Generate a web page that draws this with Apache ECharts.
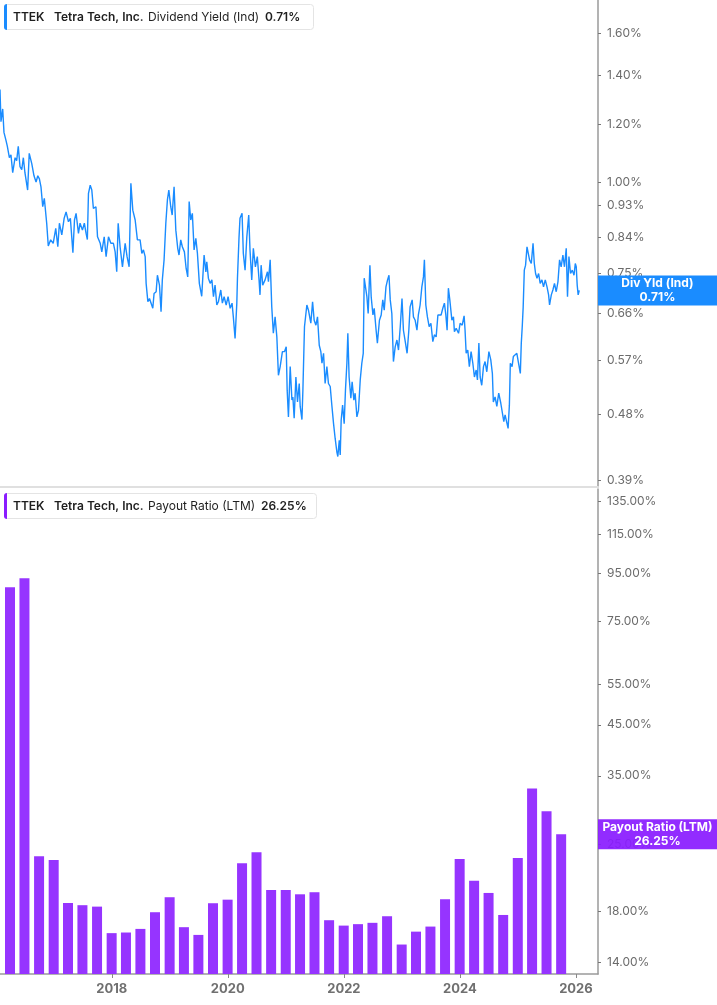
<!DOCTYPE html>
<html>
<head>
<meta charset="utf-8">
<script src="https://cdn.jsdelivr.net/npm/echarts@6/dist/echarts.min.js"></script>
<style>
  html, body { margin: 0; padding: 0; background: #fff; }
  #chart { width: 717px; height: 1005px; }
</style>
</head>
<body>
<div id="chart"></div>
<script>
// 股息率 (Ind) 日线，读自原图
const yieldDates = [
  '2016-01-28','2016-02-03','2016-02-14','2016-02-22','2016-03-06','2016-03-14','2016-03-27','2016-04-06','2016-04-17','2016-05-02',
  '2016-05-12','2016-05-22','2016-06-02','2016-06-13','2016-06-23','2016-07-03','2016-07-20','2016-07-30','2016-08-15','2016-08-29',
  '2016-09-11','2016-09-22','2016-10-02','2016-10-12','2016-10-23','2016-11-02','2016-11-17','2016-11-27','2016-12-12','2016-12-28',
  '2017-01-13','2017-01-26','2017-02-05','2017-02-20','2017-03-07','2017-03-19','2017-04-03','2017-04-15','2017-05-01','2017-05-11',
  '2017-05-21','2017-06-05','2017-06-15','2017-06-30','2017-07-12','2017-07-23','2017-07-31','2017-08-07','2017-08-18','2017-08-28',
  '2017-09-07','2017-09-23','2017-10-03','2017-10-20','2017-10-30','2017-11-14','2017-11-26','2017-12-11','2017-12-26','2018-01-11',
  '2018-01-22','2018-02-01','2018-02-10','2018-02-22','2018-03-09','2018-03-26','2018-04-07','2018-04-20','2018-05-01','2018-05-13',
  '2018-05-28','2018-06-11','2018-06-28','2018-07-09','2018-07-19','2018-07-30','2018-08-05','2018-08-16','2018-08-26','2018-09-16',
  '2018-09-24','2018-10-07','2018-10-15','2018-10-28','2018-11-07','2018-11-15','2018-11-26','2018-12-07','2018-12-17','2018-12-26',
  '2019-01-07','2019-01-16','2019-01-28','2019-02-08','2019-02-20','2019-02-28','2019-03-11','2019-03-21','2019-04-03','2019-04-14',
  '2019-04-24','2019-05-03','2019-05-13','2019-05-23','2019-06-03','2019-06-14','2019-06-24','2019-07-06','2019-07-21','2019-08-05',
  '2019-08-16','2019-08-22','2019-09-01','2019-09-12','2019-09-23','2019-10-03','2019-10-13','2019-10-24','2019-11-03','2019-11-18',
  '2019-11-28','2019-12-09','2019-12-22','2020-01-03','2020-01-16','2020-01-28','2020-02-05','2020-02-16','2020-02-27','2020-03-02',
  '2020-03-12','2020-03-18','2020-03-31','2020-04-08','2020-04-19','2020-04-30','2020-05-12','2020-05-20','2020-05-31','2020-06-10',
  '2020-06-23','2020-07-05','2020-07-16','2020-07-22','2020-07-29','2020-08-08','2020-08-23','2020-09-07','2020-09-13','2020-09-24',
  '2020-10-04','2020-10-14','2020-10-25','2020-11-05','2020-11-15','2020-11-26','2020-12-10','2020-12-23','2021-01-03','2021-01-09',
  '2021-01-17','2021-01-28','2021-02-08','2021-02-14','2021-02-22','2021-03-05','2021-03-15','2021-03-26','2021-04-01','2021-04-12',
  '2021-04-18','2021-04-28','2021-05-13','2021-05-23','2021-06-07','2021-06-18','2021-06-28','2021-07-09','2021-07-19','2021-07-30',
  '2021-08-09','2021-08-16','2021-08-26','2021-09-05','2021-09-16','2021-09-26','2021-10-07','2021-10-18','2021-10-28','2021-11-07',
  '2021-11-18','2021-11-24','2021-12-03','2021-12-09','2021-12-15','2021-12-24','2022-01-03','2022-01-11','2022-01-20','2022-01-26',
  '2022-02-03','2022-02-14','2022-02-22','2022-03-05','2022-03-13','2022-03-24','2022-04-03','2022-04-14','2022-04-24','2022-05-03',
  '2022-05-09','2022-05-19','2022-05-26','2022-06-03','2022-06-14','2022-06-22','2022-07-03','2022-07-11','2022-07-23','2022-07-31',
  '2022-08-13','2022-08-24','2022-09-03','2022-09-12','2022-09-23','2022-10-03','2022-10-12','2022-10-20','2022-10-30','2022-11-09',
  '2022-11-20','2022-12-01','2022-12-11','2022-12-22','2023-01-02','2023-01-11','2023-01-24','2023-02-03','2023-02-14','2023-02-22',
  '2023-03-07','2023-03-15','2023-03-26','2023-04-06','2023-04-15','2023-04-26','2023-05-07','2023-05-17','2023-05-23','2023-06-01',
  '2023-06-11','2023-06-22','2023-07-03','2023-07-15','2023-07-25','2023-08-05','2023-08-16','2023-08-26','2023-09-05','2023-09-16',
  '2023-09-26','2023-10-05','2023-10-13','2023-10-21','2023-10-30','2023-11-12','2023-11-22','2023-11-28','2023-12-09','2023-12-24',
  '2024-01-03','2024-01-16','2024-01-28','2024-02-03','2024-02-10','2024-02-20','2024-03-01','2024-03-12','2024-03-23','2024-04-02',
  '2024-04-13','2024-04-21','2024-04-30','2024-05-08','2024-05-18','2024-05-29','2024-06-08','2024-06-19','2024-07-02','2024-07-14',
  '2024-07-24','2024-07-30','2024-08-10','2024-08-21','2024-09-02','2024-09-15','2024-09-25','2024-10-04','2024-10-12','2024-10-23',
  '2024-10-31','2024-11-08','2024-11-14','2024-11-25','2024-12-03','2024-12-14','2024-12-25','2025-01-05','2025-01-16','2025-01-22',
  '2025-01-28','2025-02-03','2025-02-10','2025-02-18','2025-02-27','2025-03-07','2025-03-15','2025-03-26','2025-04-06','2025-04-14',
  '2025-04-22','2025-05-01','2025-05-11','2025-05-21','2025-06-01','2025-06-11','2025-06-22','2025-07-03','2025-07-13','2025-07-19',
  '2025-07-30','2025-08-09','2025-08-19','2025-08-30','2025-09-10','2025-09-20','2025-09-30','2025-10-11','2025-10-21','2025-11-01',
  '2025-11-09','2025-11-18','2025-11-28','2025-12-09','2025-12-20','2025-12-28','2026-01-03','2026-01-09','2026-01-15','2026-01-22'
];
const yieldValues = [
  1.34,1.21,1.26,1.17,1.14,1.12,1.08,1.09,1.03,1.08,
  1.07,1.12,1.05,1.04,1.08,1.03,0.975,1.095,1.06,1.02,
  1.00,1.02,1.01,0.985,0.925,0.95,0.878,0.817,0.833,0.824,
  0.864,0.815,0.878,0.846,0.892,0.910,0.882,0.892,0.800,0.887,
  0.906,0.850,0.878,0.859,0.878,0.850,0.834,0.965,0.99,0.975,
  0.920,0.925,0.841,0.824,0.802,0.841,0.790,0.841,0.824,0.824,
  0.802,0.753,0.878,0.815,0.765,0.824,0.790,0.765,0.996,0.915,
  0.887,0.833,0.833,0.798,0.807,0.790,0.726,0.685,0.692,0.671,
  0.703,0.707,0.745,0.722,0.664,0.734,0.782,0.878,0.945,0.975,
  0.925,0.901,0.985,0.859,0.811,0.794,0.833,0.815,0.802,0.761,
  0.741,0.940,0.887,0.906,0.807,0.837,0.798,0.726,0.697,0.794,
  0.753,0.777,0.738,0.726,0.734,0.696,0.722,0.678,0.685,0.711,
  0.682,0.696,0.678,0.696,0.671,0.682,0.653,0.610,0.682,0.738,
  0.841,0.892,0.906,0.798,0.757,0.841,0.901,0.807,0.734,0.811,
  0.765,0.790,0.734,0.700,0.769,0.722,0.734,0.753,0.730,0.782,
  0.674,0.620,0.653,0.613,0.543,0.558,0.585,0.585,0.594,0.518,
  0.476,0.558,0.502,0.507,0.474,0.540,0.499,0.529,0.492,0.472,
  0.518,0.633,0.678,0.667,0.640,0.685,0.646,0.636,0.653,0.597,
  0.585,0.564,0.582,0.529,0.558,0.529,0.524,0.492,0.466,0.445,
  0.426,0.420,0.442,0.422,0.471,0.494,0.466,0.518,0.564,0.620,
  0.540,0.505,0.532,0.502,0.513,0.476,0.486,0.535,0.564,0.582,
  0.738,0.734,0.696,0.660,0.769,0.696,0.657,0.671,0.626,0.601,
  0.646,0.657,0.689,0.667,0.718,0.734,0.745,0.689,0.660,0.567,
  0.594,0.607,0.588,0.633,0.692,0.626,0.601,0.582,0.626,0.674,
  0.689,0.653,0.646,0.626,0.657,0.678,0.718,0.741,0.782,0.678,
  0.653,0.633,0.640,0.604,0.617,0.613,0.657,0.653,0.657,0.671,
  0.682,0.657,0.626,0.715,0.689,0.646,0.653,0.623,0.630,0.620,
  0.640,0.636,0.655,0.626,0.582,0.588,0.558,0.585,0.564,0.540,
  0.552,0.535,0.601,0.540,0.526,0.558,0.567,0.549,0.585,0.570,
  0.546,0.499,0.507,0.492,0.513,0.497,0.494,0.469,0.479,0.481,
  0.459,0.494,0.564,0.558,0.576,0.579,0.582,0.579,0.546,0.601,
  0.633,0.674,0.757,0.769,0.815,0.798,0.782,0.773,0.824,0.773,
  0.749,0.738,0.749,0.726,0.734,0.718,0.734,0.718,0.700,0.678,
  0.700,0.711,0.726,0.707,0.730,0.782,0.765,0.794,0.765,0.811,
  0.696,0.790,0.749,0.757,0.745,0.773,0.765,0.722,0.700,0.71
];

// 派息率 (LTM) 季度值
const payoutDates = [
  '2016-03-31','2016-06-30','2016-09-30','2016-12-31','2017-03-31','2017-06-30','2017-09-30','2017-12-31',
  '2018-03-31','2018-06-30','2018-09-30','2018-12-31','2019-03-31','2019-06-30','2019-09-30','2019-12-31',
  '2020-03-31','2020-06-30','2020-09-30','2020-12-31','2021-03-31','2021-06-30','2021-09-30','2021-12-31',
  '2022-03-31','2022-06-30','2022-09-30','2022-12-31','2023-03-31','2023-06-30','2023-09-30','2023-12-31',
  '2024-03-31','2024-06-30','2024-09-30','2024-12-31','2025-03-31','2025-06-30','2025-09-30'
];
const payoutValues = [
  88.5, 92.5, 23.55, 23.13, 18.72, 18.52, 18.39, 16.14,
  16.19, 16.48, 17.89, 19.26, 16.62, 16.0, 18.70, 19.03,
  22.76, 24.02, 19.96, 19.96, 19.54, 19.74, 17.20, 16.75,
  16.87, 16.98, 17.54, 15.26, 16.26, 16.67, 19.07, 23.24,
  20.89, 19.67, 17.65, 23.35, 32.88, 29.42, 26.25
];

// 坐标轴刻度
const yieldTicks = [0.39, 0.48, 0.57, 0.66, 0.75, 0.84, 0.93, 1.00, 1.20, 1.40, 1.60];
const payoutTicks = [14, 18, 25, 35, 45, 55, 75, 95, 115, 135];
const YEAR_STEP = 2; // 年份标签间隔: 2018, 2020, ... 2026

const xMin = '2016-01-28';
const xMax = '2026-05-20';
const FONT = 'Inter';
const GRID_W = 598;
const BAR_W = 10;

const lastYield = yieldValues[yieldValues.length - 1];
const lastPayout = payoutValues[payoutValues.length - 1];

// 柱状图会把时间轴两端各撑开半个柱宽，这里预先收回，保证上下两图的时间刻度对齐
const t0 = echarts.time.parse(xMin).getTime();
const t1 = echarts.time.parse(xMax).getTime();
const barPad = (t1 - t0) * (BAR_W / 2) / GRID_W;

function headerTitle(top, accent, metric, value, metricWidth, valueWidth) {
    const base = { fontFamily: FONT, fontSize: 12, color: '#1f1f1f', height: 26, lineHeight: 26 };
    return {
        left: 4,
        top: top,
        padding: 0,
        backgroundColor: '#fff',
        borderColor: '#e4e4e4',
        borderWidth: 1,
        borderRadius: 3,
        text: '{bar| }{sp| }{tk|TTEK}{co|Tetra Tech, Inc.}{me|' + metric + '}{va|' + value + '}',
        textStyle: {
            rich: {
                bar: { width: 3, height: 26, backgroundColor: accent, borderRadius: [3, 0, 0, 3] },
                sp: { width: 6, height: 26 },
                tk: Object.assign({}, base, { width: 41, fontWeight: 600 }),
                co: Object.assign({}, base, { width: 94, fontWeight: 600 }),
                me: Object.assign({}, base, { width: metricWidth, fontWeight: 'normal' }),
                va: Object.assign({}, base, { width: valueWidth, fontWeight: 600 })
            }
        }
    };
}

function yAxisCfg(gridIndex, min, max, ticks) {
    return {
        type: 'log',
        gridIndex: gridIndex,
        position: 'right',
        min: min,
        max: max,
        axisLine: { show: true, lineStyle: { color: '#9a9a9a', width: 1.5 } },
        axisTick: { show: true, length: 3, customValues: ticks, lineStyle: { color: '#777' } },
        axisLabel: {
            customValues: ticks,
            margin: 9,
            color: '#6b6b6b',
            fontFamily: FONT,
            fontSize: 12,
            formatter: function (v) { return Number(v).toFixed(2) + '%'; }
        },
        splitLine: { show: false }
    };
}

const chartDom = document.getElementById('chart');
const myChart = echarts.init(chartDom);
const yearMs = YEAR_STEP * 365 * 24 * 3600 * 1000;
const option = {
    animation: false,
    backgroundColor: '#fff',
    title: [
        headerTitle(4, '#1a8cff', 'Dividend Yield (Ind)', lastYield.toFixed(2) + '%', 117, 49),
        headerTitle(493, '#8a1cff', 'Payout Ratio (LTM)', lastPayout.toFixed(2) + '%', 113, 56)
    ],
    grid: [
        { left: 0, right: 119, top: 0, height: 487, outerBoundsMode: 'none' },
        { left: 0, right: 119, top: 489, bottom: 31, outerBoundsMode: 'none' }
    ],
    xAxis: [
        {
            type: 'time', gridIndex: 0, min: t0, max: t1,
            axisLine: { show: true, lineStyle: { color: '#e0e0e0', width: 2 } },
            axisTick: { show: false },
            axisLabel: { show: false },
            splitLine: { show: false }
        },
        {
            type: 'time', gridIndex: 1, min: t0 + barPad, max: t1 - barPad,
            minInterval: yearMs,
            maxInterval: yearMs,
            axisLine: { show: true, lineStyle: { color: '#9a9a9a', width: 1.5 } },
            axisTick: { show: true, length: 4, lineStyle: { color: '#888' } },
            axisLabel: {
                color: '#707070',
                fontFamily: FONT,
                fontSize: 13,
                fontWeight: 'bold',
                margin: 9,
                formatter: function (v) { return String(new Date(v).getFullYear()); }
            },
            splitLine: { show: false }
        }
    ],
    yAxis: [
        yAxisCfg(0, 0.3814, 1.778, yieldTicks),
        yAxisCfg(1, 13.2, 143.6, payoutTicks)
    ],
    series: [
        {
            name: 'Dividend Yield (Ind)',
            type: 'line',
            xAxisIndex: 0,
            yAxisIndex: 0,
            showSymbol: false,
            clip: true,
            lineStyle: { color: '#1a8cff', width: 1.4 },
            data: yieldDates.map((d, i) => [d, yieldValues[i]]),
            markPoint: {
                silent: true,
                symbol: 'rect',
                symbolSize: [119, 30],
                symbolOffset: [59.5, 0],
                itemStyle: { color: '#1a8cff' },
                label: {
                    show: true, position: 'inside', color: '#fff', fontFamily: FONT,
                    fontSize: 12, fontWeight: 'bold', lineHeight: 14,
                    formatter: 'Div Yld (Ind)\n' + lastYield.toFixed(2) + '%'
                },
                data: [{ coord: [t1, lastYield] }]
            }
        },
        {
            name: 'Payout Ratio (LTM)',
            type: 'bar',
            xAxisIndex: 1,
            yAxisIndex: 1,
            barWidth: BAR_W,
            clip: true,
            itemStyle: { color: '#9634ff' },
            data: payoutDates.map((d, i) => [d, payoutValues[i]]),
            markPoint: {
                silent: true,
                symbol: 'rect',
                symbolSize: [119, 30],
                symbolOffset: [59.5, 0],
                itemStyle: { color: 'rgba(138, 28, 255, 0.93)' },
                label: {
                    show: true, position: 'inside', color: '#fff', fontFamily: FONT,
                    fontSize: 12, fontWeight: 'bold', lineHeight: 14,
                    formatter: 'Payout Ratio (LTM)\n' + lastPayout.toFixed(2) + '%'
                },
                data: [{ coord: [t1, lastPayout] }]
            }
        }
    ]
};
myChart.setOption(option);
</script>
</body>
</html>
